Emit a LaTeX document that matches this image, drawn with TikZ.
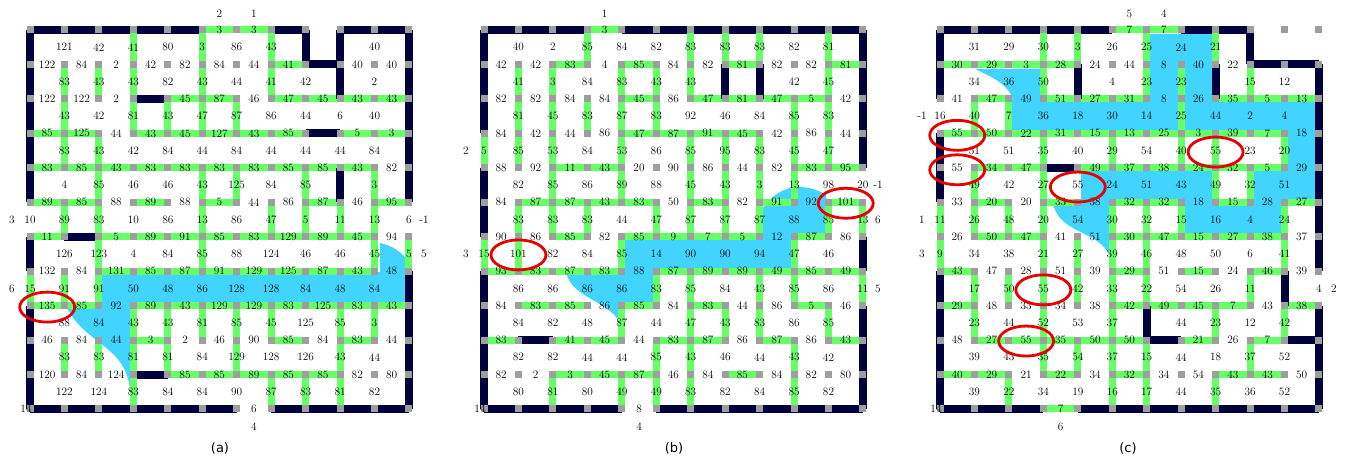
\documentclass[tikz,border=0pt]{standalone}
\usepackage{fontspec}
\newfontfamily\capfont{DejaVu Sans}
\newcommand\numfont{\fontsize{11.3}{13}\selectfont}

\definecolor{mazewall}{RGB}{0,0,60}
\definecolor{mazepath}{RGB}{102,255,102}
\definecolor{mazeknot}{RGB}{158,158,158}
\definecolor{mazeflow}{RGB}{64,212,255}
\definecolor{mazering}{RGB}{230,0,0}

% lattice of one maze, points named <panel>-<row>-<col>
\newcommand\lattice[2]{%
  \foreach \row in {0,...,11}
    \foreach \col in {0,...,11}
      \coordinate (#1-\row-\col) at ({#2+\col*34.45},{30+\row*34.45});}

% edges along one lattice row
\newcommand\hedges[3]{%
  \foreach \kind/\val [count=\col from 0] in {#3} {
    \pgfmathtruncatemacro\colnext{\col+1}
    \draw[edge\kind] (#1-#2-\col) -- node[num] (#1-h-#2-\col) {\val} (#1-#2-\colnext);
  }}

% edges between lattice row #2 and the next one
\newcommand\vedges[3]{%
  \pgfmathtruncatemacro\rownext{#2+1}
  \foreach \kind/\val [count=\col from 0] in {#3} {
    \draw[edge\kind] (#1-#2-\col) -- node[num] (#1-v-#2-\col) {\val} (#1-\rownext-\col);
  }}

\newcommand\knots[1]{%
  \foreach \row in {0,...,11}
    \foreach \col in {0,...,11}
      \node[knot] (#1-k-\row-\col) at (#1-\row-\col) {};}

\begin{document}
\begin{tikzpicture}[x=1pt, y=-1pt,
    num/.style={inner sep=0pt, font=\numfont},
    edgew/.style={draw=mazewall, line width=8pt},
    edgeg/.style={draw=mazepath, line width=7pt},
    edgeo/.style={draw=none},
    edgen/.style={draw=none},
    knot/.style={fill=mazeknot, minimum size=7pt, inner sep=0pt},
    flow/.style={fill=mazeflow},
    ring/.style={draw=mazering, line width=2.8pt},
    panelcap/.style={font=\capfont\fontsize{13}{15}\selectfont}
    ]
    \useasboundingbox (0,0) rectangle (1347,460);

    \lattice{a}{30}
    \lattice{b}{484}
    \lattice{c}{940}

    % flow regions
    \fill[flow] (99,272) -- (380,272) -- (380,243) .. controls (393,246) and (399,251) .. (405,257)
        -- (405,305) -- (130,305) -- (130,390) .. controls (126,345) and (85,345) .. (66,306) -- (99,306) -- cycle;
    \fill[flow] (625,239) -- (763,239) -- (763,208) .. controls (772,195) and (785,187) .. (798,187)
        .. controls (810,187) and (818,190) .. (826,195) -- (826,235) -- (792,235) -- (792,269)
        -- (653,269) -- (653,304) -- (621,304) -- (621,326) .. controls (612,300) and (572,300) .. (566,272)
        -- (625,272) -- cycle;
    \fill[flow] (975,69) -- (1042,69) -- (1042,101) -- (1013,101) .. controls (1010,85) and (992,77) .. (975,69) -- cycle;
    \fill[flow] (1011,99) rectangle (1316,134);
    \fill[flow] (1150,34) rectangle (1213,100);
    \fill[flow] (1287,99) rectangle (1316,202);
    \fill[flow] (1081,168) rectangle (1213,202);
    \fill[flow] (1252,168) rectangle (1316,202);
    \fill[flow] (1184,200) rectangle (1282,234);
    \fill[flow] (1053,201) -- (1111,201) -- (1111,262) .. controls (1107,230) and (1056,236) .. (1053,201) -- cycle;

    % maze (a)
    \hedges{a}{0}{w/{},w/{},w/{},w/{},w/{},g/3,g/3,w/{},n/{},w/{},w/{}}
    \hedges{a}{1}{o/122,o/84,o/2,o/42,o/82,o/84,o/44,g/41,w/{},o/40,o/40}
    \hedges{a}{2}{o/122,o/122,o/2,w/{},g/45,g/87,o/46,g/47,g/45,g/43,g/43}
    \hedges{a}{3}{g/85,g/125,o/44,g/43,g/45,g/127,g/43,g/85,w/{},g/5,g/3}
    \hedges{a}{4}{g/83,g/85,g/43,g/83,g/83,g/83,g/83,g/85,g/85,g/43,o/82}
    \hedges{a}{5}{g/89,g/85,o/88,g/89,o/88,g/5,o/44,o/86,g/87,o/46,g/95}
    \hedges{a}{6}{g/11,w/{},g/5,g/89,g/91,g/85,g/83,g/129,g/89,g/45,o/94}
    \hedges{a}{7}{o/132,o/84,g/131,g/85,g/87,g/91,g/129,g/125,g/87,g/43,o/48}
    \hedges{a}{8}{g/135,g/85,o/92,g/89,g/43,g/129,g/129,g/83,g/125,g/83,g/43}
    \hedges{a}{9}{o/46,o/84,o/44,g/3,o/2,o/46,o/90,g/85,o/84,g/83,o/44}
    \hedges{a}{10}{o/120,o/84,o/124,w/{},g/85,g/85,g/89,g/85,g/85,o/82,o/80}
    \hedges{a}{11}{w/{},w/{},w/{},w/{},w/{},w/{},o/6,w/{},w/{},w/{},w/{}}
    \vedges{a}{0}{w/{},o/121,o/42,g/41,o/80,g/3,o/86,g/43,w/{},w/{},o/40,w/{}}
    \vedges{a}{1}{w/{},g/83,g/43,g/43,o/82,g/43,o/44,g/41,o/42,w/{},o/2,w/{}}
    \vedges{a}{2}{w/{},g/43,o/42,g/81,g/43,g/47,g/87,o/86,o/44,o/6,o/40,w/{}}
    \vedges{a}{3}{w/{},g/83,g/43,o/42,o/84,o/44,o/84,o/44,o/44,o/44,o/84,w/{}}
    \vedges{a}{4}{w/{},o/4,g/85,o/46,o/46,g/43,g/125,o/84,g/85,w/{},g/3,w/{}}
    \vedges{a}{5}{o/10,g/89,g/83,o/10,o/86,g/13,o/86,g/47,g/5,g/11,g/13,o/6}
    \vedges{a}{6}{w/{},o/126,g/123,o/4,o/84,g/85,o/88,o/124,o/46,o/46,g/45,g/5}
    \vedges{a}{7}{g/15,g/91,g/91,o/50,o/48,o/86,o/128,o/128,o/84,o/48,o/84,w/{}}
    \vedges{a}{8}{w/{},o/88,o/84,g/43,g/43,g/81,g/85,g/45,o/125,g/85,g/3,w/{}}
    \vedges{a}{9}{w/{},g/83,g/83,g/81,g/81,o/84,g/129,o/128,o/126,g/43,o/44,w/{}}
    \vedges{a}{10}{w/{},o/122,o/124,g/83,o/84,o/84,o/90,g/87,g/83,g/81,o/82,w/{}}

    % maze (b)
    \hedges{b}{0}{w/{},w/{},w/{},g/3,w/{},w/{},w/{},w/{},w/{},w/{},w/{}}
    \hedges{b}{1}{o/42,o/42,g/83,o/4,g/85,o/84,o/82,g/81,o/82,o/82,g/81}
    \hedges{b}{2}{o/82,o/82,o/84,o/84,g/45,o/86,g/47,g/81,g/47,g/5,o/42}
    \hedges{b}{3}{o/84,o/42,o/44,o/86,g/47,g/87,g/91,g/45,o/42,o/86,o/44}
    \hedges{b}{4}{o/88,o/92,g/11,g/43,o/20,o/90,o/86,o/44,o/82,g/83,g/95}
    \hedges{b}{5}{o/84,g/87,g/87,g/43,g/83,o/50,g/83,o/82,g/91,o/92,g/101}
    \hedges{b}{6}{o/90,o/86,g/85,o/82,g/85,g/9,g/7,g/5,o/12,g/87,o/86}
    \hedges{b}{7}{g/93,g/83,g/87,g/83,o/88,g/87,g/89,g/89,g/49,g/85,g/49}
    \hedges{b}{8}{o/84,g/83,g/85,o/86,g/85,o/84,g/83,o/44,o/86,g/5,o/46}
    \hedges{b}{9}{g/83,w/{},g/41,g/45,o/44,g/83,g/87,o/86,g/87,o/86,g/43}
    \hedges{b}{10}{o/82,o/2,g/3,g/45,g/87,o/46,o/84,g/85,o/84,o/82,o/80}
    \hedges{b}{11}{w/{},w/{},w/{},w/{},o/8,w/{},w/{},w/{},w/{},w/{},w/{}}
    \vedges{b}{0}{w/{},o/40,o/2,g/85,o/84,o/82,g/83,g/83,g/83,o/82,g/81,w/{}}
    \vedges{b}{1}{w/{},g/41,g/3,o/84,g/83,g/43,g/43,w/{},w/{},o/42,g/45,w/{}}
    \vedges{b}{2}{w/{},g/81,g/45,g/83,g/87,g/83,o/92,o/46,o/84,g/85,g/83,w/{}}
    \vedges{b}{3}{g/5,g/85,g/53,o/84,g/53,o/86,g/85,g/95,g/83,g/45,g/47,w/{}}
    \vedges{b}{4}{w/{},o/82,g/85,o/86,g/89,o/88,g/45,g/43,g/3,g/13,o/98,o/20}
    \vedges{b}{5}{w/{},g/83,g/83,g/83,o/44,g/47,g/87,g/87,g/87,o/88,g/85,g/13}
    \vedges{b}{6}{g/15,g/101,o/82,o/84,g/85,o/14,o/90,o/90,o/94,g/47,o/46,w/{}}
    \vedges{b}{7}{w/{},o/86,o/86,o/86,o/86,g/83,g/85,o/84,g/43,g/85,o/86,g/11}
    \vedges{b}{8}{w/{},o/84,o/82,o/48,g/87,o/44,g/47,g/43,g/83,o/86,g/85,w/{}}
    \vedges{b}{9}{w/{},o/82,o/82,o/44,o/44,g/85,g/43,o/46,o/44,g/43,o/42,w/{}}
    \vedges{b}{10}{w/{},o/80,g/81,o/80,g/49,g/49,g/83,o/82,o/84,g/85,o/82,w/{}}

    % maze (c)
    \hedges{c}{0}{w/{},w/{},w/{},w/{},w/{},g/7,g/7,w/{},w/{},n/{},n/{}}
    \hedges{c}{1}{g/30,g/29,g/3,g/28,o/24,o/44,o/8,o/40,o/22,w/{},w/{}}
    \hedges{c}{2}{o/41,g/47,o/49,g/51,g/27,g/31,o/8,o/26,g/35,g/5,g/13}
    \hedges{c}{3}{g/55,g/50,g/22,g/31,g/15,g/13,g/25,g/3,g/39,g/7,o/18}
    \hedges{c}{4}{o/55,g/34,g/47,w/{},g/49,g/37,g/38,g/24,g/32,g/5,o/29}
    \hedges{c}{5}{o/33,g/20,o/20,g/33,o/38,g/32,g/32,o/18,g/15,o/28,g/27}
    \hedges{c}{6}{o/26,g/50,g/47,o/41,o/51,g/30,g/47,g/15,g/27,g/38,o/37}
    \hedges{c}{7}{g/43,o/47,o/28,o/51,o/39,g/29,o/51,g/15,o/24,g/46,o/39}
    \hedges{c}{8}{g/29,o/48,o/33,o/34,o/38,g/42,g/49,g/45,g/7,o/43,g/38}
    \hedges{c}{9}{o/48,g/27,g/55,g/35,g/50,g/50,w/{},g/21,o/26,g/7,w/{}}
    \hedges{c}{10}{g/40,g/29,o/21,g/22,o/34,g/32,o/34,o/54,g/43,g/43,o/50}
    \hedges{c}{11}{w/{},w/{},w/{},g/7,w/{},w/{},w/{},w/{},w/{},w/{},w/{}}
    \vedges{c}{0}{w/{},o/31,o/29,g/30,g/3,o/26,g/25,o/24,g/21,w/{},n/{},n/{}}
    \vedges{c}{1}{w/{},o/34,o/36,g/50,w/{},o/4,g/23,g/23,w/{},g/15,o/12,w/{}}
    \vedges{c}{2}{o/16,g/40,g/7,o/36,o/18,o/30,o/14,g/25,o/44,o/2,o/4,w/{}}
    \vedges{c}{3}{w/{},o/51,o/51,g/35,o/40,g/29,o/54,g/40,g/55,o/23,g/20,w/{}}
    \vedges{c}{4}{w/{},g/49,o/42,g/27,o/55,o/24,o/51,o/43,g/49,g/32,o/51,w/{}}
    \vedges{c}{5}{g/11,g/26,g/48,g/20,o/54,g/30,g/32,g/15,o/16,o/4,g/24,w/{}}
    \vedges{c}{6}{g/9,o/34,o/38,g/21,g/27,g/39,g/46,o/48,o/50,o/6,g/41,w/{}}
    \vedges{c}{7}{w/{},g/17,g/50,g/55,g/42,g/33,g/22,o/54,o/26,g/11,w/{},o/4}
    \vedges{c}{8}{w/{},g/23,o/44,g/52,o/53,g/37,w/{},o/44,g/23,o/12,g/42,w/{}}
    \vedges{c}{9}{w/{},o/39,o/43,g/35,g/54,g/37,g/15,o/44,o/18,g/37,o/52,w/{}}
    \vedges{c}{10}{w/{},o/39,g/22,o/34,o/19,g/16,g/17,o/44,g/35,o/36,o/52,w/{}}

    \knots{a}
    \knots{b}
    \knots{c}

    % marked edges
    \draw[ring] ([yshift=-1.5pt]a-h-8-0) ellipse [x radius=27.5pt, y radius=15pt];
    \draw[ring] ([yshift=-1pt]b-h-5-10) ellipse [x radius=27.5pt, y radius=15pt];
    \draw[ring] ([yshift=-1pt]b-v-6-1) ellipse [x radius=27.5pt, y radius=15pt];
    \draw[ring] ([yshift=-2pt]c-h-3-0) ellipse [x radius=27.5pt, y radius=15pt];
    \draw[ring] ([yshift=-2pt]c-h-4-0) ellipse [x radius=27.5pt, y radius=15pt];
    \draw[ring] ([yshift=-2pt]c-v-4-4) ellipse [x radius=27.5pt, y radius=15pt];
    \draw[ring] ([yshift=-1.5pt]c-v-3-8) ellipse [x radius=27.5pt, y radius=15pt];
    \draw[ring] ([yshift=-1.5pt]c-v-7-3) ellipse [x radius=27.5pt, y radius=15pt];
    \draw[ring] ([yshift=-1pt]c-h-9-2) ellipse [x radius=27.5pt, y radius=15pt];

    % gate numbers outside the mazes
    \node[num] (a-g2) at ([yshift=16pt]a-h-0-5) {2};
    \node[num] (a-g1) at ([yshift=16pt]a-h-0-6) {1};
    \node[num] (a-g3) at ([xshift=-18pt]a-v-5-0) {3};
    \node[num] (a-g6) at ([xshift=-18pt]a-v-7-0) {6};
    \node[num] (a-gm) at ([xshift=15pt]a-v-5-11) {-1};
    \node[num] (a-g5) at ([xshift=15pt]a-v-6-11) {5};
    \node[num] (a-g4) at ([yshift=-18pt]a-h-11-6) {4};
    \node[num] (a-corner) at ([xshift=-4pt]a-11-0) {14};

    \node[num] (b-g1) at ([yshift=16pt]b-h-0-3) {1};
    \node[num] (b-g2) at ([xshift=-18pt]b-v-3-0) {2};
    \node[num] (b-g3) at ([xshift=-18pt]b-v-6-0) {3};
    \node[num] (b-gm) at ([xshift=15pt]b-v-4-11) {-1};
    \node[num] (b-g6) at ([xshift=15pt]b-v-5-11) {6};
    \node[num] (b-g5) at ([xshift=15pt]b-v-7-11) {5};
    \node[num] (b-g4) at ([yshift=-18pt]b-h-11-4) {4};
    \node[num] (b-corner) at ([xshift=-4pt]b-11-0) {14};

    \node[num] (c-g5) at ([yshift=16pt]c-h-0-5) {5};
    \node[num] (c-g4) at ([yshift=16pt]c-h-0-6) {4};
    \node[num] (c-gm) at ([xshift=-18pt]c-v-2-0) {-1};
    \node[num] (c-g1) at ([xshift=-18pt]c-v-5-0) {1};
    \node[num] (c-g3) at ([xshift=-18pt]c-v-6-0) {3};
    \node[num] (c-g2) at ([xshift=15pt]c-v-7-11) {2};
    \node[num] (c-g6) at ([yshift=-18pt]c-h-11-3) {6};
    \node[num] (c-corner) at ([xshift=-4pt]c-11-0) {14};

    % captions
    \node[panelcap] (cap-a) at (220,448) {(a)};
    \node[panelcap] (cap-b) at (674,448) {(b)};
    \node[panelcap] (cap-c) at (1128,448) {(c)};
\end{tikzpicture}
\end{document}
